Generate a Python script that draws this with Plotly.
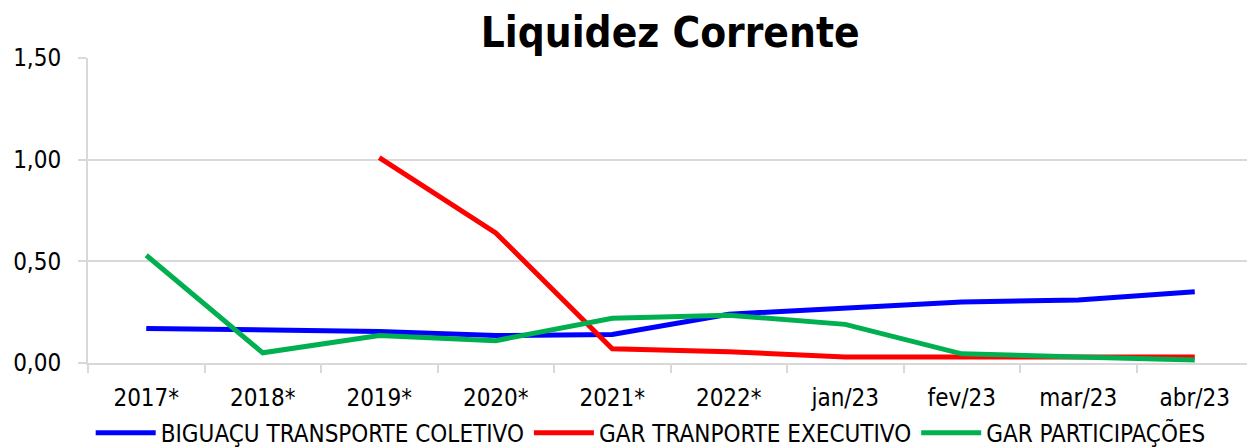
import plotly.graph_objects as go

categories = ["2017*", "2018*", "2019*", "2020*", "2021*", "2022*", "jan/23", "fev/23", "mar/23", "abr/23"]
biguacu = [0.17, 0.16, 0.155, 0.135, 0.14, 0.24, 0.27, 0.30, 0.31, 0.35]
gar_exec = [None, None, 1.01, 0.64, 0.07, 0.055, 0.03, 0.03, 0.03, 0.03]
gar_part = [0.53, 0.05, 0.135, 0.11, 0.22, 0.235, 0.19, 0.045, 0.03, 0.015]

font = "DejaVu Sans Condensed, DejaVu Sans, sans-serif"

fig = go.Figure()
fig.add_trace(go.Scatter(x=categories, y=biguacu, mode="lines", name="BIGUAÇU TRANSPORTE COLETIVO",
                         line=dict(color="#0000FF", width=5)))
fig.add_trace(go.Scatter(x=categories, y=gar_exec, mode="lines", name="GAR TRANPORTE EXECUTIVO",
                         line=dict(color="#FF0000", width=5)))
fig.add_trace(go.Scatter(x=categories, y=gar_part, mode="lines", name="GAR PARTICIPAÇÕES",
                         line=dict(color="#00B050", width=5)))

fig.update_layout(
    width=1247, height=440,
    margin=dict(l=80, r=2, t=50, b=85, autoexpand=False),
    paper_bgcolor="white", plot_bgcolor="white",
    separators=",.",
    title=dict(text="<b>Liquidez Corrente</b>", x=0.531, xanchor="center", y=0.945, yanchor="middle",
               font=dict(family=font, size=42, color="black")),
    font=dict(family=font, size=24, color="black"),
    showlegend=True,
    legend=dict(orientation="h", x=0.483, xanchor="center", y=-0.23, yanchor="middle",
                font=dict(size=24), tracegroupgap=0, itemsizing="constant", itemwidth=60),
    xaxis=dict(type="category", range=[-0.5, 9.5], showgrid=False, showline=True, linecolor="#D9D9D9",
               linewidth=2, ticks="outside", tickson="boundaries", ticklen=8, tickcolor="#D9D9D9",
               tickwidth=2, tickfont=dict(size=24), automargin=False, ticklabelstandoff=12),
    yaxis=dict(range=[0, 1.5], tickvals=[0, 0.5, 1.0, 1.5], tickformat=".2f", showgrid=True,
               gridcolor="#D9D9D9", gridwidth=2, showline=True, linecolor="#D9D9D9", linewidth=2,
               ticks="outside", ticklen=8, tickcolor="#D9D9D9", tickwidth=2, zeroline=False,
               tickfont=dict(size=24), automargin=False, ticklabelstandoff=12),
)

fig.write_html("out.html")
